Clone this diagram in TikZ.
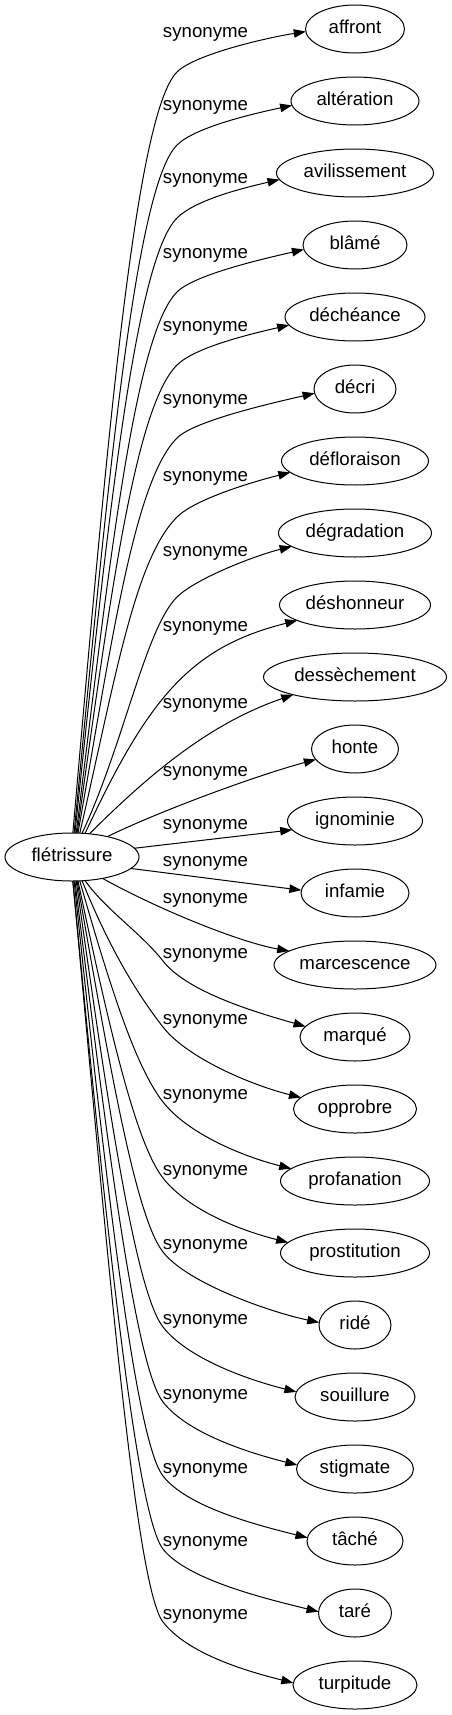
\documentclass[tikz,border=0pt]{standalone}
\usepackage{fontspec}
\setmainfont{Liberation Sans}
\usetikzlibrary{shapes.geometric,arrows.meta}
\begin{document}
\begin{tikzpicture}[x=1pt,y=1pt,
  every node/.style={font=\fontsize{18.67pt}{22pt}\selectfont},
  word/.style={draw, ellipse, line width=1pt, minimum height=48pt, inner sep=0pt, outer sep=0pt, text height=13.4pt, text depth=3.9pt},
  syn/.style={anchor=base, inner sep=0pt},
  edge/.style={line width=1pt, -{Triangle[length=12pt,width=8.5pt]}}]
\useasboundingbox (0,0) rectangle (452,-1715);
% nodes
\node[word, minimum width=134pt] (f) at (72,-857) {flétrissure};
\node[word, minimum width=99pt]  (n0)  at (355,-29)   {affront};
\node[word, minimum width=128pt] (n1)  at (355,-101)  {altération};
\node[word, minimum width=157pt] (n2)  at (355,-173)  {avilissement};
\node[word, minimum width=104pt] (n3)  at (355,-245)  {blâmé};
\node[word, minimum width=140pt] (n4)  at (355,-317)  {déchéance};
\node[word, minimum width=82pt]  (n5)  at (355,-389)  {décri};
\node[word, minimum width=147pt] (n6)  at (355,-461)  {défloraison};
\node[word, minimum width=153pt] (n7)  at (355,-533)  {dégradation};
\node[word, minimum width=151pt] (n8)  at (355,-605)  {déshonneur};
\node[word, minimum width=183pt] (n9)  at (355,-677)  {dessèchement};
\node[word, minimum width=87pt]  (n10) at (355,-749)  {honte};
\node[word, minimum width=135pt] (n11) at (355,-821)  {ignominie};
\node[word, minimum width=108pt] (n12) at (355,-893)  {infamie};
\node[word, minimum width=162pt] (n13) at (355,-965)  {marcescence};
\node[word, minimum width=110pt] (n14) at (355,-1037) {marqué};
\node[word, minimum width=123pt] (n15) at (355,-1109) {opprobre};
\node[word, minimum width=149pt] (n16) at (355,-1181) {profanation};
\node[word, minimum width=149pt] (n17) at (355,-1253) {prostitution};
\node[word, minimum width=72pt]  (n18) at (355,-1325) {ridé};
\node[word, minimum width=120pt] (n19) at (355,-1397) {souillure};
\node[word, minimum width=117pt] (n20) at (355,-1469) {stigmate};
\node[word, minimum width=96pt]  (n21) at (355,-1541) {tâché};
\node[word, minimum width=73pt]  (n22) at (355,-1613) {taré};
\node[word, minimum width=124pt] (n23) at (355,-1685) {turpitude};
% labels
\node[syn] (l0)  at (205.5,-38)   {synonyme};
\node[syn] (l1)  at (205.5,-111)  {synonyme};
\node[syn] (l2)  at (205.5,-184)  {synonyme};
\node[syn] (l3)  at (205.5,-258)  {synonyme};
\node[syn] (l4)  at (205.5,-331)  {synonyme};
\node[syn] (l5)  at (205.5,-404)  {synonyme};
\node[syn] (l6)  at (205.5,-481)  {synonyme};
\node[syn] (l7)  at (205.5,-556)  {synonyme};
\node[syn] (l8)  at (205.5,-631)  {synonyme};
\node[syn] (l9)  at (205.5,-708)  {synonyme};
\node[syn] (l10) at (205.5,-776)  {synonyme};
\node[syn] (l11) at (205.5,-829)  {synonyme};
\node[syn] (l12) at (205.5,-866)  {synonyme};
\node[syn] (l13) at (205.5,-903)  {synonyme};
\node[syn] (l14) at (205.5,-958)  {synonyme};
\node[syn] (l15) at (205.5,-1024) {synonyme};
\node[syn] (l16) at (205.5,-1099) {synonyme};
\node[syn] (l17) at (205.5,-1175) {synonyme};
\node[syn] (l18) at (205.5,-1249) {synonyme};
\node[syn] (l19) at (205.5,-1324) {synonyme};
\node[syn] (l20) at (205.5,-1399) {synonyme};
\node[syn] (l21) at (205.5,-1473) {synonyme};
\node[syn] (l22) at (205.5,-1546) {synonyme};
\node[syn] (l23) at (205.5,-1619) {synonyme};
% upper edges
\draw[edge] (f.88) to[out=85, in=225, out distance=380pt, in distance=60pt] (177,-72)
  to[out=45, in=189, out distance=25pt, in distance=40pt] (n0.183);
\draw[edge] (f.85) to[out=84.5, in=225, out distance=344pt, in distance=60pt] (177,-145)
  to[out=45, in=192, out distance=25pt, in distance=40pt] (n1.184);
\draw[edge] (f.83) to[out=84, in=225, out distance=307pt, in distance=60pt] (177,-218)
  to[out=45, in=193, out distance=25pt, in distance=40pt] (n2.185);
\draw[edge] (f.80) to[out=83, in=225, out distance=270pt, in distance=60pt] (177,-292)
  to[out=45, in=193, out distance=25pt, in distance=40pt] (n3.185);
\draw[edge] (f.78) to[out=82, in=225, out distance=234pt, in distance=60pt] (177,-365)
  to[out=45, in=193, out distance=25pt, in distance=40pt] (n4.187);
\draw[edge] (f.76) to[out=80, in=225, out distance=197pt, in distance=60pt] (177,-438)
  to[out=45, in=193, out distance=25pt, in distance=40pt] (n5.186);
\draw[edge] (f.72) to[out=77, in=225, out distance=158pt, in distance=60pt] (177,-517)
  to[out=45, in=194, out distance=25pt, in distance=40pt] (n6.190);
\draw[edge] (f.67) to[out=65, in=225, out distance=100pt, in distance=45pt] (177,-597)
  to[out=45, in=194, out distance=25pt, in distance=40pt] (n7.192);
\draw[edge] (f.61) to[out=65, in=194, out distance=150pt, in distance=110pt] (n8.195);
\draw[edge] (f.53) to[out=45, in=199, out distance=100pt, in distance=80pt] (n9.196);
\draw[edge] (f.30) to[out=26, in=195, out distance=60pt, in distance=60pt] (n10.195);
% middle edges
\draw[edge] (f.8) -- (n11.188);
\draw[edge] (f.-11) -- (n12.177);
\draw[edge] (f.-35) to[out=-29, in=170, out distance=65pt, in distance=50pt] (n13.168);
\draw[edge] (f.-61) to[out=-55, in=128, out distance=35pt, in distance=35pt] (163,-961)
  to[out=-52, in=164, out distance=40pt, in distance=50pt] (n14.168);
% lower edges
\draw[edge] (f.-67) to[out=-68, in=128, out distance=70pt, in distance=45pt] (163,-1027)
  to[out=-52, in=166, out distance=40pt, in distance=50pt] (n15.168);
\draw[edge] (f.-72) to[out=-74, in=128, out distance=110pt, in distance=45pt] (163,-1102)
  to[out=-52, in=166, out distance=40pt, in distance=50pt] (n16.169);
\draw[edge] (f.-76) to[out=-78, in=128, out distance=148pt, in distance=45pt] (163,-1178)
  to[out=-52, in=166, out distance=40pt, in distance=50pt] (n17.171);
\draw[edge] (f.-78) to[out=-80, in=128, out distance=185pt, in distance=45pt] (163,-1252)
  to[out=-52, in=168, out distance=40pt, in distance=50pt] (n18.176);
\draw[edge] (f.-80) to[out=-82, in=128, out distance=223pt, in distance=45pt] (163,-1327)
  to[out=-52, in=166, out distance=40pt, in distance=50pt] (n19.175);
\draw[edge] (f.-83) to[out=-83, in=128, out distance=260pt, in distance=45pt] (163,-1402)
  to[out=-52, in=166, out distance=40pt, in distance=50pt] (n20.176);
\draw[edge] (f.-85) to[out=-84, in=128, out distance=297pt, in distance=45pt] (163,-1476)
  to[out=-52, in=166, out distance=40pt, in distance=50pt] (n21.176);
\draw[edge] (f.-88) to[out=-84.5, in=128, out distance=334pt, in distance=45pt] (163,-1549)
  to[out=-52, in=166, out distance=40pt, in distance=50pt] (n22.178);
\draw[edge] (f.-88) to[out=-84.7, in=128, out distance=370pt, in distance=45pt] (163,-1622)
  to[out=-52, in=166, out distance=40pt, in distance=50pt] (n23.178);
\end{tikzpicture}
\end{document}
